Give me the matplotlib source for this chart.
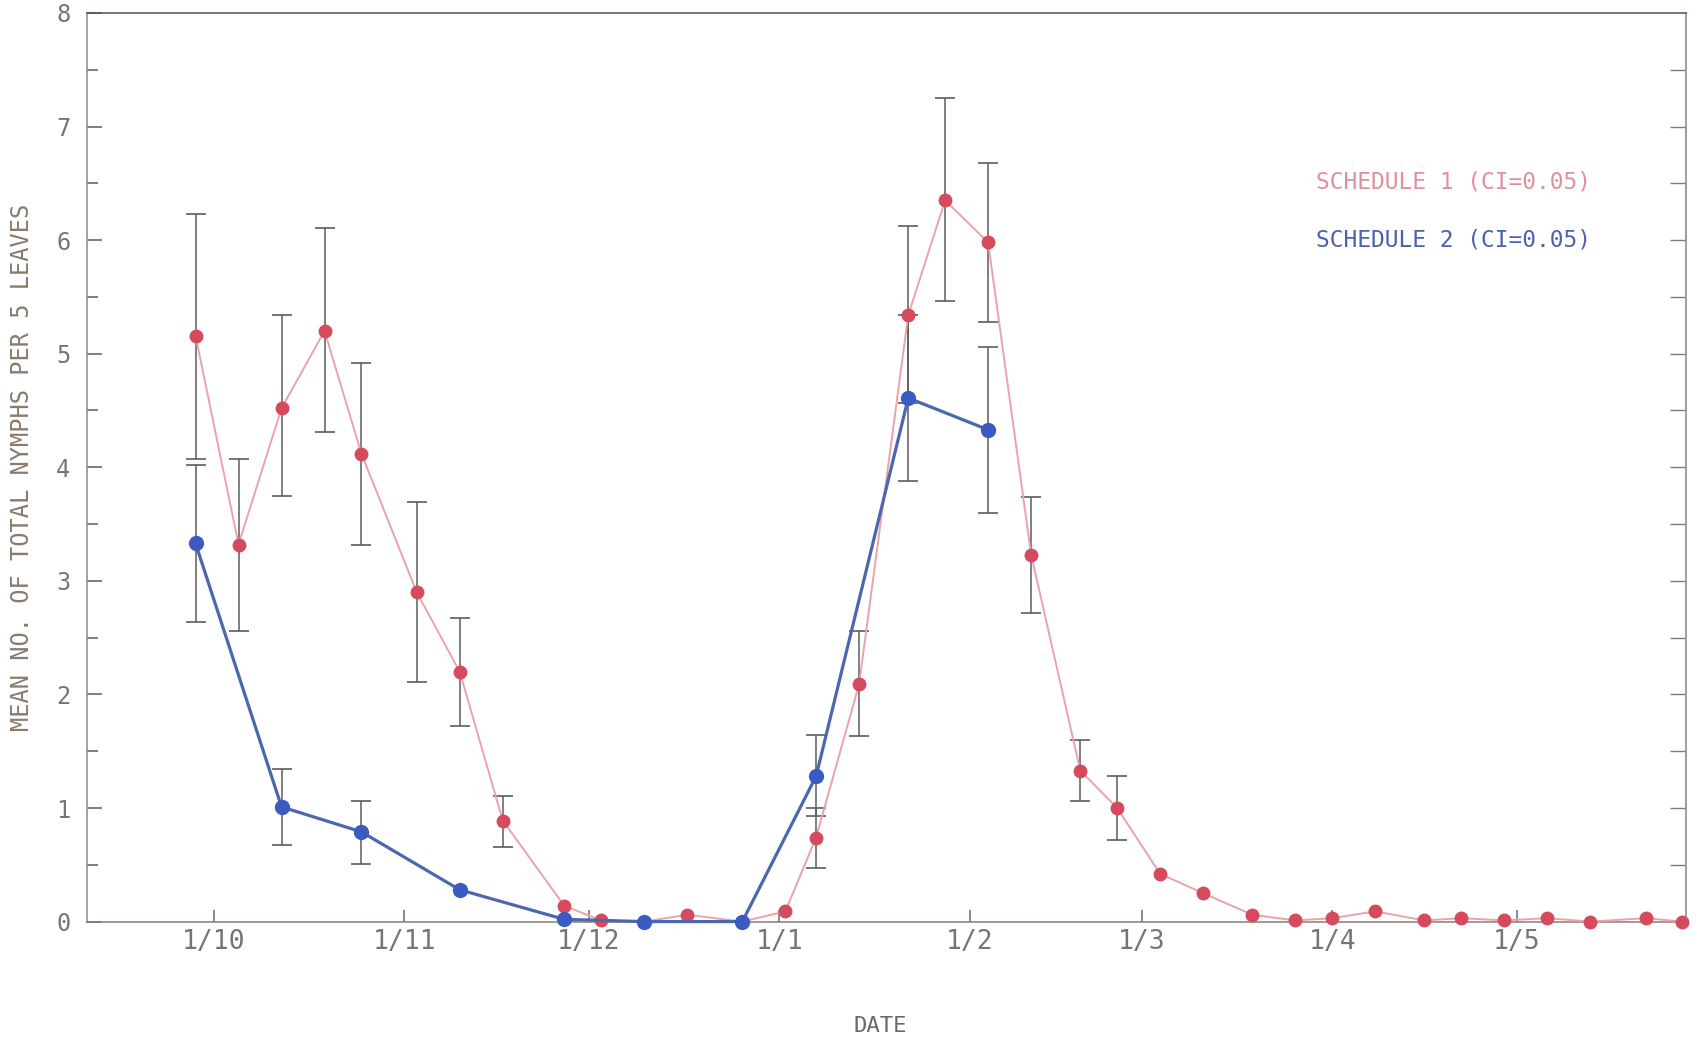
import datetime as dt
import numpy as np
import matplotlib
matplotlib.use("Agg")
import matplotlib.pyplot as plt

# calendario 1: fecha de muestreo (dia/mes), media e intervalo de confianza (nan = sin barra)
fechas1 = ["28/9", "5/10", "12/10", "19/10", "25/10", "3/11", "10/11", "17/11", "27/11",
           "3/12", "10/12", "17/12", "26/12", "2/1", "7/1", "14/1", "22/1", "28/1", "4/2",
           "11/2", "19/2", "25/2", "4/3", "11/3", "19/3", "26/3", "1/4", "8/4", "16/4",
           "22/4", "29/4", "6/5", "13/5", "22/5", "28/5"]
media1 = [5.16, 3.32, 4.52, 5.20, 4.12, 2.90, 2.20, 0.89, 0.14,
          0.01, 0.00, 0.06, 0.00, 0.09, 0.74, 2.09, 5.34, 6.35, 5.98,
          3.23, 1.33, 1.00, 0.42, 0.25, 0.06, 0.01, 0.03, 0.09, 0.01,
          0.03, 0.01, 0.03, 0.00, 0.03, 0.00]
inf1 = [4.07, 2.56, 3.75, 4.31, 3.32, 2.11, 1.72, 0.66, np.nan,
        np.nan, np.nan, np.nan, np.nan, np.nan, 0.47, 1.63, 4.57, 5.46, 5.28,
        2.72, 1.06, 0.72] + [np.nan] * 13
sup1 = [6.23, 4.07, 5.34, 6.11, 4.92, 3.69, 2.67, 1.11, np.nan,
        np.nan, np.nan, np.nan, np.nan, np.nan, 1.00, 2.56, 6.12, 7.25, 6.68,
        3.74, 1.60, 1.28] + [np.nan] * 13

# calendario 2
fechas2 = ["28/9", "12/10", "25/10", "10/11", "27/11", "10/12", "26/12", "7/1", "22/1", "4/2"]
media2 = [3.33, 1.01, 0.79, 0.28, 0.02, 0.00, 0.00, 1.28, 4.61, 4.33]
inf2 = [2.64, 0.67, 0.51, np.nan, np.nan, np.nan, np.nan, 0.93, 3.88, 3.60]
sup2 = [4.02, 1.34, 1.06, np.nan, np.nan, np.nan, np.nan, 1.64, 5.34, 5.06]

etiquetas_x = ["1/10", "1/11", "1/12", "1/1", "1/2", "1/3", "1/4", "1/5"]


def a_fecha(s):
    d, m = [int(v) for v in s.split("/")]
    anio = 1986 if m >= 9 else 1987
    return dt.datetime(anio, m, d)


x1 = np.array([a_fecha(f) for f in fechas1])
y1 = np.array(media1)
lo1 = np.array(inf1)
hi1 = np.array(sup1)
x2 = np.array([a_fecha(f) for f in fechas2])
y2 = np.array(media2)
lo2 = np.array(inf2)
hi2 = np.array(sup2)

mono = "DejaVu Sans Mono"
gris = "#757575"

fig = plt.figure(figsize=(17.02, 10.53), dpi=100)
ax = fig.add_axes([0.0511, 0.1248, 0.9395, 0.8629])

# barras de error
m1 = ~np.isnan(lo1)
ax.errorbar(x1[m1], y1[m1], yerr=[y1[m1] - lo1[m1], hi1[m1] - y1[m1]], fmt="none",
            ecolor="#5c5c5c", elinewidth=1.1, capsize=7, capthick=1.2, zorder=2)
m2 = ~np.isnan(lo2)
ax.errorbar(x2[m2], y2[m2], yerr=[y2[m2] - lo2[m2], hi2[m2] - y2[m2]], fmt="none",
            ecolor="#5c5c5c", elinewidth=1.1, capsize=7, capthick=1.2, zorder=2)

# series
ax.plot(x1, y1, color="#eba3aa", lw=1.4, zorder=3, clip_on=False)
ax.plot(x1, y1, "o", color="#d64a5e", ms=10, mec="none", zorder=4, clip_on=False)
ax.plot(x2, y2, color="#4c67ae", lw=2.3, zorder=5, clip_on=False)
ax.plot(x2, y2, "o", color="#3a5bc2", ms=11, mec="none", zorder=6, clip_on=False)

ax.set_xlim(dt.datetime(1986, 9, 10, 8), dt.datetime(1987, 5, 28, 14))
ax.set_ylim(0, 8)

ax.set_xticks([a_fecha(e) for e in etiquetas_x])
ax.set_xticklabels(etiquetas_x, family=mono, fontsize=19, color=gris)
ax.tick_params(axis="x", direction="in", length=9, width=1.1, color="#6a6a6a", pad=5)

ax.set_yticks(range(0, 9))
ax.set_yticklabels([str(v) for v in range(0, 9)], family=mono, fontsize=17, color=gris)
ax.set_yticks(np.arange(0.5, 8, 1.0), minor=True)
ax.tick_params(axis="y", which="major", direction="in", length=11, width=1.2,
               color="#6a6a6a", pad=12)
ax.tick_params(axis="y", which="minor", direction="in", length=8, width=1.2, color="#6a6a6a")

# marcas del eje derecho
der = ax.secondary_yaxis("right")
der.set_yticks(np.arange(0.5, 8, 0.5))
der.set_yticklabels([])
der.tick_params(direction="in", length=11.5, width=1.0, color="#7a7a7a")
der.spines["right"].set_color("#9a9a9a")
der.spines["right"].set_linewidth(1.1)

ax.spines["left"].set_color("#8c8c8c")
ax.spines["bottom"].set_color("#8a7c7c")
ax.spines["top"].set_color("#6e4848")
ax.spines["right"].set_color("#9a9a9a")
for s in ax.spines.values():
    s.set_linewidth(1.1)

ax.set_ylabel("MEAN NO. OF TOTAL NYMPHS PER 5 LEAVES", family=mono, fontsize=17, color="#8a7a6c")
ax.yaxis.set_label_coords(-0.0334, 0.5)
fig.text(0.517, 0.0256, "DATE", family=mono, fontsize=16, color="#6a6a6a",
         ha="center", va="center")

ax.text(0.7684, 0.814, "SCHEDULE 1 (CI=0.05)", transform=ax.transAxes, family=mono,
        fontsize=16.5, color="#e0909a", va="center")
ax.text(0.7684, 0.750, "SCHEDULE 2 (CI=0.05)", transform=ax.transAxes, family=mono,
        fontsize=16.5, color="#4a62b0", va="center")

fig.savefig("out.png", dpi=100)
